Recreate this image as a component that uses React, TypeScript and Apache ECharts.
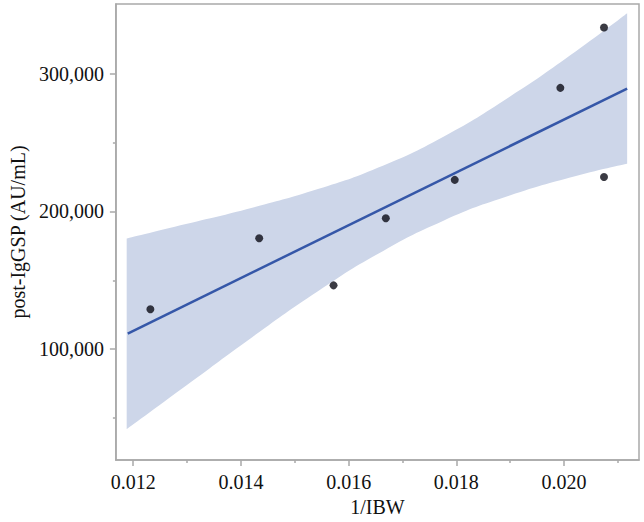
import React, { useEffect, useRef } from "react";
import * as echarts from "echarts";

// Observed data points (1/IBW vs post-IgGSP)
const pointX = [0.01232, 0.01434, 0.01572, 0.01669, 0.01797, 0.01993, 0.02074, 0.02074];
const pointY = [128900, 180500, 146300, 195000, 222900, 289700, 333500, 225000];

// Fitted regression line end points
const fitX = [0.0119, 0.02117];
const fitY = [111300, 289200];

// Confidence band
const bandX = [0.01188, 0.01298, 0.01421, 0.01543, 0.01654, 0.01776, 0.01899, 0.02022, 0.02117];
const bandUpper = [180300, 190800, 202700, 216200, 231700, 254300, 283300, 316300, 343800];
const bandLower = [41800, 73400, 108700, 142000, 169100, 193300, 211500, 225700, 234600];

// Axis ticks
const xMajorTicks = [0.012, 0.014, 0.016, 0.018, 0.02];
const xMinorTicks = [0.013, 0.015, 0.017, 0.019, 0.021];
const yMajorTicks = [100000, 200000, 300000];
const yMinorTicks = [50000, 150000, 250000];

const xRange = [0.01168, 0.02139];
const yRange = [19500, 350600];

const FONT = "Liberation Serif";
const AXIS_COLOR = "#a9a9a9";
const TEXT_COLOR = "#111";
const BAND_COLOR = "#cdd6e9";

export default function App() {
  const ref = useRef<HTMLDivElement>(null);

  useEffect(() => {
    if (!ref.current) return;
    const chart = echarts.init(ref.current, undefined, { renderer: "svg" });

    const baseX = {
      type: "value",
      min: xRange[0],
      max: xRange[1],
      splitLine: { show: false },
      z: 10,
    };
    const baseY = {
      type: "value",
      min: yRange[0],
      max: yRange[1],
      splitLine: { show: false },
      z: 10,
    };

    chart.setOption({
      animation: false,
      grid: {
        left: 111,
        right: 5,
        top: 4,
        bottom: 60,
        show: true,
        borderColor: AXIS_COLOR,
        borderWidth: 1.5,
        backgroundColor: "transparent",
        z: 10,
      },
      xAxis: [
        {
          ...baseX,
          position: "bottom",
          name: "1/IBW",
          nameLocation: "middle",
          nameGap: 37,
          nameTextStyle: { fontFamily: FONT, fontSize: 20, color: TEXT_COLOR },
          axisLine: { show: true, lineStyle: { color: AXIS_COLOR, width: 1.5 } },
          axisTick: {
            show: true,
            length: 6,
            customValues: xMajorTicks,
            lineStyle: { color: AXIS_COLOR, width: 1.5 },
          },
          axisLabel: {
            customValues: xMajorTicks,
            margin: 12,
            fontFamily: FONT,
            fontSize: 20,
            color: TEXT_COLOR,
            formatter: (v: number) => v.toFixed(3),
          },
        },
        {
          ...baseX,
          position: "bottom",
          axisLine: { show: false },
          axisTick: {
            show: true,
            length: 3,
            customValues: xMinorTicks,
            lineStyle: { color: AXIS_COLOR, width: 1.5 },
          },
          axisLabel: { show: false },
        },
      ],
      yAxis: [
        {
          ...baseY,
          position: "left",
          name: "post-IgGSP (AU/mL)",
          nameLocation: "middle",
          nameGap: 86,
          nameTextStyle: { fontFamily: FONT, fontSize: 20, color: TEXT_COLOR },
          axisLine: { show: true, lineStyle: { color: AXIS_COLOR, width: 1.5 } },
          axisTick: {
            show: true,
            length: 6,
            customValues: yMajorTicks,
            lineStyle: { color: AXIS_COLOR, width: 1.5 },
          },
          axisLabel: {
            customValues: yMajorTicks,
            margin: 12,
            fontFamily: FONT,
            fontSize: 20,
            color: TEXT_COLOR,
            formatter: (v: number) => v.toLocaleString("en-US"),
          },
        },
        {
          ...baseY,
          position: "left",
          axisLine: { show: false },
          axisTick: {
            show: true,
            length: 3,
            customValues: yMinorTicks,
            lineStyle: { color: AXIS_COLOR, width: 1.5 },
          },
          axisLabel: { show: false },
        },
      ],
      series: [
        {
          type: "line",
          name: "bandLower",
          stack: "ci",
          smooth: true,
          symbol: "none",
          encode: { x: 1, y: 0 },
          lineStyle: { width: 0, opacity: 0 },
          data: bandX.map((x, i) => [bandLower[i], x]),
          silent: true,
          z: 1,
        },
        {
          type: "line",
          name: "bandUpper",
          stack: "ci",
          smooth: true,
          symbol: "none",
          encode: { x: 1, y: 0 },
          lineStyle: { width: 0, opacity: 0 },
          areaStyle: { color: BAND_COLOR, opacity: 1 },
          data: bandX.map((x, i) => [bandUpper[i] - bandLower[i], x]),
          silent: true,
          z: 1,
        },
        {
          type: "line",
          name: "fit",
          symbol: "none",
          lineStyle: { color: "#3557a8", width: 2.5 },
          data: fitX.map((x, i) => [x, fitY[i]]),
          z: 2,
        },
        {
          type: "scatter",
          name: "points",
          symbolSize: 8,
          itemStyle: { color: "#0a0a14" },
          data: pointX.map((x, i) => [x, pointY[i]]),
          z: 3,
        },
      ],
    });

    return () => chart.dispose();
  }, []);

  return (
    <div
      ref={ref}
      style={{ width: 644, height: 522, position: "absolute", left: 0, top: 0 }}
    />
  );
}
